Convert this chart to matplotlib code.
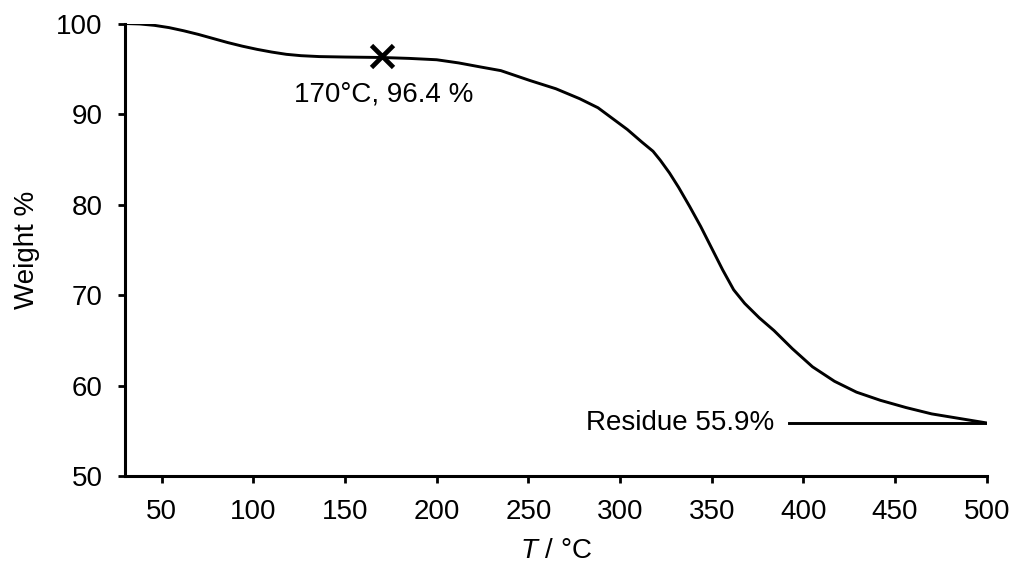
import numpy as np
import matplotlib
matplotlib.use('Agg')
import matplotlib.pyplot as plt

# TGA curve
temp_c = [30, 38, 46, 54, 62, 70, 78, 86, 94, 102, 110, 118, 126, 136, 150, 170,
          185, 200, 212, 224, 235, 251, 265, 278, 288, 296, 304, 312, 318, 322,
          327, 332, 338, 344, 350, 356, 362, 368, 376, 384, 394, 405, 417, 429,
          442, 456, 470, 485, 500]
weight_pct = [100.0, 99.95, 99.8, 99.55, 99.2, 98.8, 98.35, 97.9, 97.5, 97.15,
              96.85, 96.6, 96.45, 96.35, 96.3, 96.25, 96.15, 96.0, 95.65, 95.2,
              94.8, 93.7, 92.8, 91.7, 90.7, 89.5, 88.3, 86.9, 85.9, 84.9,
              83.5, 81.9, 79.8, 77.6, 75.2, 72.8, 70.6, 69.1, 67.5, 66.1,
              64.1, 62.1, 60.5, 59.3, 58.4, 57.6, 56.9, 56.4, 55.9]

mark_t, mark_w = 170, 96.4
residue_t = [392, 500]
residue_w = [55.9, 55.9]

x_ticks = [50, 100, 150, 200, 250, 300, 350, 400, 450, 500]
y_ticks = [50, 60, 70, 80, 90, 100]

plt.rcParams['font.family'] = ['Liberation Sans', 'DejaVu Sans']
plt.rcParams['mathtext.fontset'] = 'custom'
plt.rcParams['mathtext.it'] = 'Liberation Sans:italic'
plt.rcParams['mathtext.rm'] = 'Liberation Sans'

fig = plt.figure(figsize=(10.13, 5.71), dpi=100)
ax = fig.add_axes([0.1234, 0.1657, 0.8506, 0.7931])

ax.plot(temp_c, weight_pct, color='black', linewidth=2.1, solid_joinstyle='round')
ax.plot(residue_t, residue_w, color='black', linewidth=2.1)
ax.plot([mark_t], [mark_w], marker='x', color='black', markersize=16, markeredgewidth=3.4)

ax.text(171, 92.2, '170°C, 96.4 %', fontsize=20, ha='center', va='center')
ax.text(384, 55.9, 'Residue 55.9%', fontsize=20, ha='right', va='center')

ax.set_xlim(30, 500)
ax.set_ylim(50, 100)
ax.set_xticks(x_ticks)
ax.set_yticks(y_ticks)

for s in ['top', 'right']:
    ax.spines[s].set_visible(False)
for s in ['left', 'bottom']:
    ax.spines[s].set_linewidth(2.2)

ax.tick_params(axis='both', direction='out', length=5, width=2, labelsize=20, pad=11)
ax.set_xlabel(r'$T$ / °C', fontsize=20, labelpad=10)
ax.set_ylabel('Weight %', fontsize=20, labelpad=12)

fig.savefig('out.png', dpi=100)
